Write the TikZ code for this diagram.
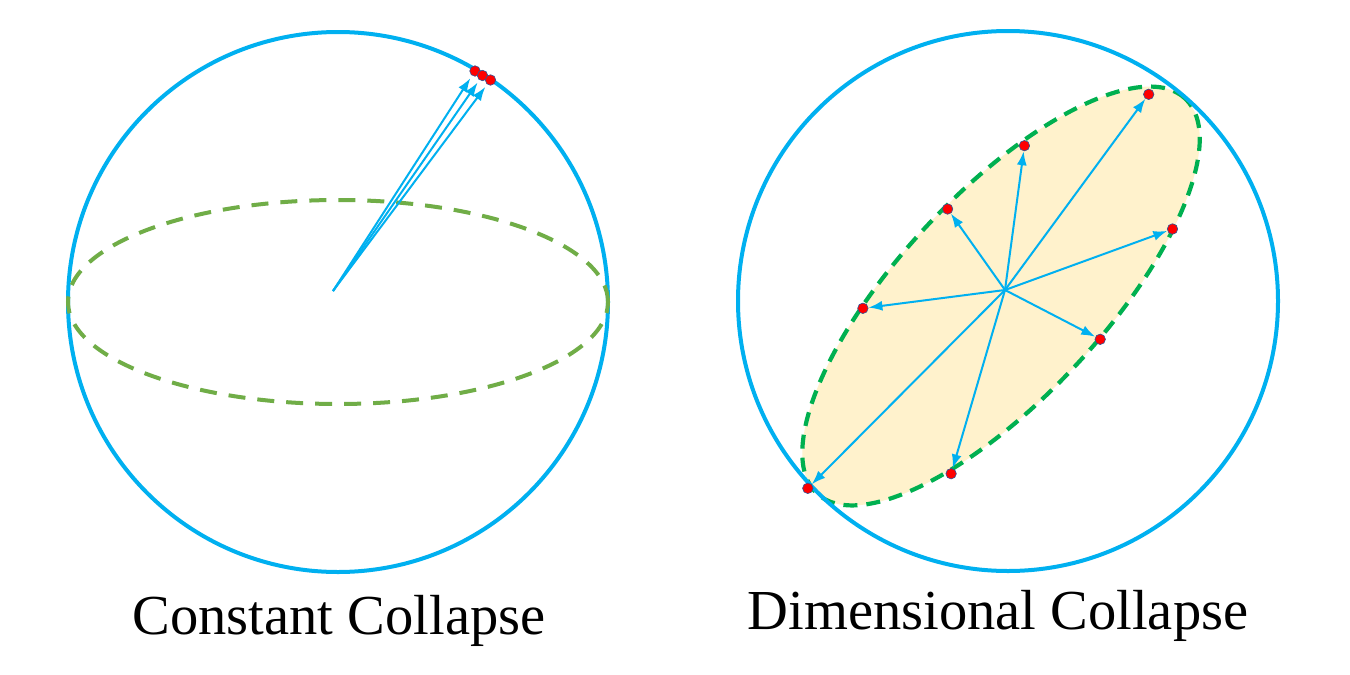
\documentclass[tikz,border=0pt]{standalone}
\usepackage{fontspec}
\setmainfont{Liberation Serif}
\usetikzlibrary{arrows.meta}
\definecolor{sblue}{HTML}{00B0F0}
\definecolor{olive}{HTML}{70AD47}
\definecolor{sgreen}{HTML}{00B050}
\definecolor{cream}{HTML}{FFF2CC}
\definecolor{dotedge}{HTML}{2F5597}
\tikzset{
  sphere/.style={draw=sblue,line width=4pt},
  eqline/.style={draw=olive,line width=4pt,dash pattern=on 17pt off 12pt},
  planeline/.style={draw=sgreen,fill=cream,line width=4.2pt,dash pattern=on 14pt off 9pt},
  vec/.style={draw=sblue,line width=2pt,-{Latex[length=14pt,width=10pt]}},
  pt/.style={circle,fill=red,draw=dotedge,line width=0.6pt,minimum size=10.5pt,inner sep=0pt},
  caption/.style={font=\fontsize{56.5}{60}\selectfont,anchor=base,inner sep=0pt}
}
\begin{document}
\begin{tikzpicture}[x=1pt,y=-1pt]
\useasboundingbox[fill=white] (0,0) rectangle (1350,675);
% ---------- left: constant collapse
\coordinate (lc) at (338,302);
\draw[sphere] (lc) circle[radius=270pt];
\draw[eqline] (lc) ellipse[x radius=270pt,y radius=102pt];
\coordinate (lo) at (333,291);
\node[pt] (l1) at (475,71) {};
\node[pt] (l2) at (482.5,75.5) {};
\node[pt] (l3) at (490.5,80) {};
\draw[vec,shorten >=3pt] (lo) -- (l1);
\draw[vec,shorten >=3pt] (lo) -- (l2);
\draw[vec,shorten >=3pt] (lo) -- (l3);
\node[caption] (lt) at (339,634) {Constant Collapse};
% ---------- right: dimensional collapse
\coordinate (rc) at (1008,301);
\coordinate (ec) at (1001,296);
\draw[planeline,rotate around={47:(ec)}] (ec) ellipse[x radius=270pt,y radius=102pt];
\draw[sphere] (rc) circle[radius=270pt];
\coordinate (ro) at (1005,290);
\node[pt] (r1) at (1148.7,94.3) {};
\node[pt] (r2) at (1024.4,145.7) {};
\node[pt] (r3) at (947.6,209) {};
\node[pt] (r4) at (1172.5,229) {};
\node[pt] (r5) at (862.9,308.3) {};
\node[pt] (r6) at (1100.2,339.3) {};
\node[pt] (r7) at (951.1,473.7) {};
\node[pt] (r8) at (807.8,488.3) {};
\foreach \i in {1,...,8} {\draw[vec] (ro) -- (r\i);}
\node[caption] (rt) at (998,629) {Dimensional Collapse};
\end{tikzpicture}
\end{document}
